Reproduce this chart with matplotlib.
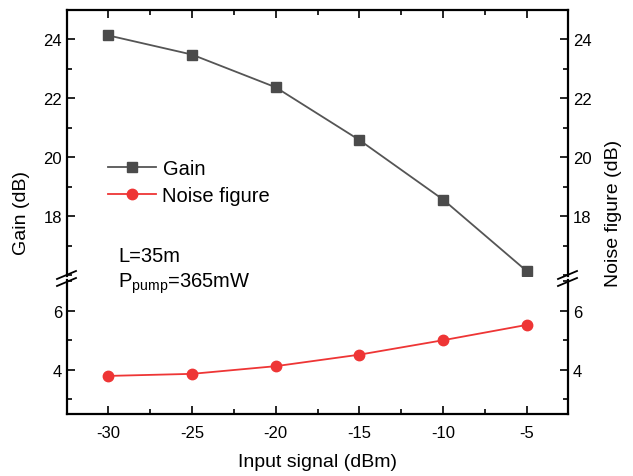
import numpy as np
import matplotlib
matplotlib.use("Agg")
import matplotlib.pyplot as plt
from matplotlib.lines import Line2D
from matplotlib.ticker import MultipleLocator

plt.rcParams["font.family"] = ["Liberation Sans", "DejaVu Sans"]

# data
signal_dbm = [-30, -25, -20, -15, -10, -5]
gain_db = [24.14, 23.49, 22.38, 20.59, 18.57, 16.14]
noise_fig_db = [3.79, 3.86, 4.12, 4.51, 5.00, 5.52]

W, H = 633, 477
fig = plt.figure(figsize=(W / 100, H / 100), dpi=100)

# pixel layout (y measured from top)
left_px, right_px = 67, 568
top_px, bot_px = 11, 415
gap_top, gap_bot = 277, 281

def fx(px):
    return px / W

def fy(py):
    return 1 - py / H

ax_top = fig.add_axes([fx(left_px), fy(gap_top), fx(right_px - left_px), (gap_top - top_px) / H])
ax_bot = fig.add_axes([fx(left_px), fy(bot_px), fx(right_px - left_px), (bot_px - gap_bot) / H])

gain_col = "#4b4b4b"
nf_col = "#ee3535"

ax_top.plot(signal_dbm, gain_db, color="#555555", lw=1.3, marker="s", ms=6.5,
            mfc=gain_col, mec=gain_col, label="Gain")
ax_bot.plot(signal_dbm, noise_fig_db, color=nf_col, lw=1.3, marker="o", ms=7.5,
            mfc=nf_col, mec=nf_col, label="Noise figure")

ax_top.set_ylim(15.98, 25)
ax_bot.set_ylim(2.5, 7.04)
for ax in (ax_top, ax_bot):
    ax.set_xlim(-32.45, -2.55)
    ax.xaxis.set_major_locator(MultipleLocator(5))
    ax.xaxis.set_minor_locator(MultipleLocator(2.5))
    ax.yaxis.set_major_locator(MultipleLocator(2))
    ax.yaxis.set_minor_locator(MultipleLocator(1))
    for s in ax.spines.values():
        s.set_linewidth(1.6)
    ax.tick_params(which="both", direction="in", width=1.2, labelsize=12,
                   left=True, right=True, labelleft=True, labelright=True)
    ax.tick_params(which="major", length=6)
    ax.tick_params(which="minor", length=3.5)

ax_top.spines["bottom"].set_visible(False)
ax_top.tick_params(which="both", bottom=False, labelbottom=False, top=True, labeltop=False)
ax_top.set_yticks([18, 20, 22, 24])
ax_bot.spines["top"].set_visible(False)
ax_bot.tick_params(which="both", top=False, bottom=True, labelbottom=True)
ax_bot.set_yticks([4, 6])
ax_bot.set_xticks(signal_dbm)
ax_bot.set_xticklabels([str(v) for v in signal_dbm])
ax_bot.tick_params(axis="x", pad=8)

# break marks
for xp in (left_px, right_px):
    for yc in (276, 283):
        fig.add_artist(Line2D([fx(xp - 10), fx(xp + 9)], [fy(yc + 4), fy(yc - 4)],
                              transform=fig.transFigure, color="black", lw=1.3))

# legend
handles = [ax_top.lines[0], ax_bot.lines[0]]
fig.legend(handles, [h.get_label() for h in handles], loc="upper left",
           bbox_to_anchor=(fx(90), fy(142)), frameon=False, fontsize=14.5,
           handlelength=2.4, handletextpad=0.3, labelspacing=0.4)

fig.text(fx(118), fy(257), "L=35m", fontsize=14.5, va="center", ha="left")
fig.text(fx(118), fy(284), r"P$_{\mathregular{pump}}$=365mW", fontsize=14.5, va="center", ha="left")

fig.text(fx(317), fy(463), "Input signal (dBm)", fontsize=14, ha="center", va="center")
fig.text(fx(22), fy(213), "Gain (dB)", fontsize=14, ha="center", va="center", rotation=90)
fig.text(fx(614), fy(213), "Noise figure (dB)", fontsize=14, ha="center", va="center", rotation=90)

fig.savefig("out.png", dpi=100)
